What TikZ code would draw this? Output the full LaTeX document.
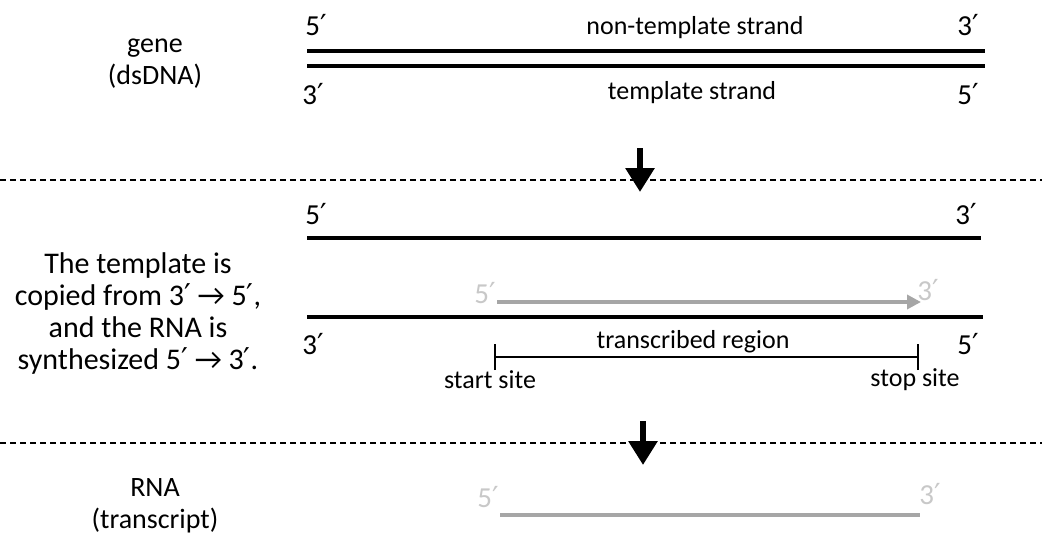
\documentclass[tikz,border=0pt]{standalone}
\usepackage{fontspec}
\setmainfont{Carlito}
\newfontfamily\primefont{DejaVu Sans}
\newcommand{\pr}{{\primefont\char"2032}}
\usetikzlibrary{arrows.meta}
\definecolor{rnagray}{RGB}{166,166,166}
\definecolor{rnatext}{RGB}{200,200,200}
\tikzset{
	strand/.style={line width=4.5pt},
	rna/.style={line width=4.5pt, color=rnagray},
	step arrow/.style={line width=6pt, -{Triangle[width=28pt,length=24pt]}},
	endlabel/.style={font=\fontsize{29}{32}\selectfont, inner sep=0pt},
	rnalabel/.style={endlabel, text=rnatext},
	strandname/.style={font=\fontsize{26}{30}\selectfont, inner sep=0pt},
	sidetext/.style={font=\fontsize{28}{32}\selectfont, align=center, inner sep=0pt},
	midtext/.style={font=\fontsize{30}{32}\selectfont, align=center, inner sep=0pt},
	divider/.style={line width=1.3pt, dash pattern=on 6pt off 4pt}
}

\begin{document}
\begin{tikzpicture}[x=1pt, y=-1pt]
			%%%%% START %%%%%
			\useasboundingbox (0, 0) rectangle (1042, 541);
			
			% gene (dsDNA)
			\node[sidetext] (gene) at (155, 64) {gene\\(dsDNA)};
			\node[endlabel] (g5top) at (316, 25) {5\pr};
			\node[endlabel] (g3top) at (968, 25) {3\pr};
			\node[strandname] (nontempl) at (695, 28) {non-template strand};
			\coordinate (g1a) at (307, 51);
			\coordinate (g1b) at (985, 51);
			\draw[strand] (g1a) -- (g1b);
			\coordinate (g2a) at (307, 66);
			\coordinate (g2b) at (985, 66);
			\draw[strand] (g2a) -- (g2b);
			\node[endlabel] (g3bot) at (313, 94) {3\pr};
			\node[endlabel] (g5bot) at (968, 94) {5\pr};
			\node[strandname] (templ) at (692, 93) {template strand};
			
			% first step
			\draw[divider] (0, 180) -- (1042, 180);
			\coordinate (a1top) at (640, 148);
			\coordinate (a1tip) at (640, 192);
			\draw[step arrow] (a1top) -- (a1tip);
			
			% transcription
			\node[midtext] (copied) at (138, 313) {The template is\\copied from 3\pr{} → 5\pr,\\and the RNA is\\synthesized 5\pr{} → 3\pr.};
			\node[endlabel] (t5top) at (316, 214) {5\pr};
			\node[endlabel] (t3top) at (966, 214) {3\pr};
			\coordinate (t1a) at (307, 238);
			\coordinate (t1b) at (981, 238);
			\draw[strand] (t1a) -- (t1b);
			\node[rnalabel] (r5) at (485, 293) {5\pr};
			\node[rnalabel] (r3) at (928, 290) {3\pr};
			\coordinate (ra) at (497, 302);
			\coordinate (rb) at (921, 302);
			\draw[rna, -{Triangle[width=14pt,length=14pt]}] (ra) -- (rb);
			\coordinate (t2a) at (307, 317);
			\coordinate (t2b) at (983, 317);
			\draw[strand] (t2a) -- (t2b);
			\node[endlabel] (t3bot) at (313, 344) {3\pr};
			\node[endlabel] (t5bot) at (968, 344) {5\pr};
			
			% transcribed region
			\coordinate (start) at (495, 357);
			\coordinate (stop) at (918, 357);
			\draw[line width=1.3pt] (start) -- (stop);
			\draw[line width=1.3pt] ([yshift=-13pt]start) -- ([yshift=13pt]start);
			\draw[line width=1.3pt] ([yshift=-13pt]stop) -- ([yshift=13pt]stop);
			\node[strandname] (region) at (693, 342) {transcribed region};
			\node[strandname] (startlbl) at (490, 380) {start site};
			\node[strandname] (stoplbl) at (915, 380) {stop site};
			
			% second step
			\draw[divider] (0, 443) -- (1042, 443);
			\coordinate (a2top) at (643, 421);
			\coordinate (a2tip) at (643, 465);
			\draw[step arrow] (a2top) -- (a2tip);
			
			% RNA (transcript)
			\node[sidetext] (transcript) at (155, 506) {RNA\\(transcript)};
			\node[rnalabel] (m5) at (488, 497) {5\pr};
			\node[rnalabel] (m3) at (930, 494) {3\pr};
			\coordinate (ma) at (500, 515);
			\coordinate (mb) at (920, 515);
			\draw[rna] (ma) -- (mb);
			%%%%% END %%%%%
\end{tikzpicture}
\end{document}
